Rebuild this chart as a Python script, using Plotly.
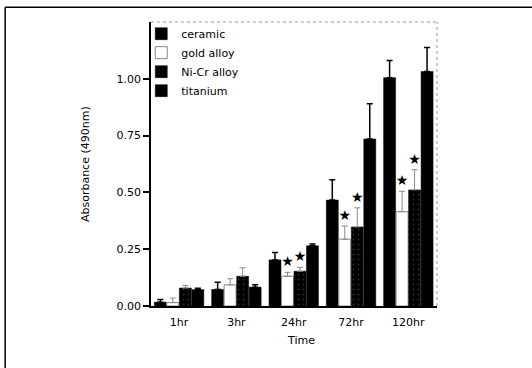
import plotly.graph_objects as go

categories = ["1hr", "3hr", "24hr", "72hr", "120hr"]
ceramic = [0.017, 0.073, 0.203, 0.466, 1.005]
ceramic_err = [0.012, 0.032, 0.033, 0.090, 0.075]
gold = [0.015, 0.093, 0.131, 0.294, 0.415]
gold_err = [0.020, 0.027, 0.017, 0.058, 0.090]
nicr = [0.079, 0.131, 0.153, 0.348, 0.511]
nicr_err = [0.011, 0.037, 0.017, 0.084, 0.089]
titanium = [0.072, 0.083, 0.265, 0.735, 1.032]
titanium_err = [0.006, 0.010, 0.008, 0.155, 0.106]
gold_star = [False, False, True, True, True]
nicr_star = [False, False, True, True, True]
y_ticks = [0.0, 0.25, 0.5, 0.75, 1.0]

FONT = "DejaVu Sans"
fig = go.Figure()

def add_bar(name, vals, errs, group, fill, line_color, line_w, err_color, err_w, pattern=None):
    marker = dict(color=fill, line=dict(color=line_color, width=line_w))
    if pattern:
        marker["pattern"] = pattern
    fig.add_trace(go.Bar(
        x=categories, y=vals, name=name, offsetgroup=group,
        marker=marker,
        error_y=dict(type="data", symmetric=False, array=errs,
                     arrayminus=[0] * len(errs), color=err_color,
                     thickness=err_w, width=3),
        hoverinfo="skip",
    ))

add_bar("ceramic", ceramic, ceramic_err, "c", "black", "black", 0.5, "black", 1.5)
add_bar("gold alloy", gold, gold_err, "g", "white", "#888888", 1, "#8a8a8a", 1)
add_bar("Ni-Cr alloy", nicr, nicr_err, "n", "black", "black", 0.5, "#8a8a8a", 1,
        pattern=dict(shape=".", fgcolor="#555555", bgcolor="black", size=5, solidity=0.12))
add_bar("titanium", titanium, titanium_err, "t", "black", "black", 0.5, "black", 1.5)

def add_stars(vals, errs, flags, group):
    fig.add_trace(go.Bar(
        x=categories, y=[v + e for v, e in zip(vals, errs)], offsetgroup=group,
        marker=dict(color="rgba(0,0,0,0)", line=dict(width=0)),
        text=["★" if f else "" for f in flags], textposition="outside",
        textfont=dict(family=FONT, size=14, color="black"),
        constraintext="none", cliponaxis=False, showlegend=False, hoverinfo="skip",
    ))

add_stars(gold, gold_err, gold_star, "g")
add_stars(nicr, nicr_err, nicr_star, "n")

fig.update_layout(
    width=532, height=368,
    margin=dict(l=151, r=95, t=22, b=62),
    paper_bgcolor="white", plot_bgcolor="white",
    barmode="group", bargap=0.128, bargroupgap=0.04,
    font=dict(family=FONT, size=11, color="black"),
    showlegend=True,
    legend=dict(x=-0.034, y=1.01, xanchor="left", yanchor="top",
                bgcolor="rgba(0,0,0,0)", font=dict(family=FONT, size=11, color="black"),
                traceorder="normal"),
    xaxis=dict(range=[-0.49, 4.5], showline=True, linecolor="black", linewidth=1.5,
               ticks="", showgrid=False, zeroline=False, ticklabelstandoff=5,
               tickfont=dict(family=FONT, size=11, color="black")),
    yaxis=dict(range=[0, 1.25], tickvals=y_ticks, tickformat=".2f", showline=True,
               linecolor="black", linewidth=1.5, ticks="outside", ticklen=6,
               tickwidth=1.5, tickcolor="black", showgrid=False, zeroline=False,
               tickfont=dict(family=FONT, size=11, color="black")),
    shapes=[
        dict(type="line", xref="paper", yref="paper", x0=0, x1=1, y0=1, y1=1,
             line=dict(color="#999999", width=1, dash="dot")),
        dict(type="line", xref="paper", yref="paper", x0=1, x1=1, y0=0, y1=1,
             line=dict(color="#999999", width=1, dash="dot")),
        dict(type="line", xref="paper", yref="paper", x0=-0.51, x1=1.4, y0=1.052, y1=1.052,
             line=dict(color="black", width=1.5)),
        dict(type="line", xref="paper", yref="paper", x0=-0.51, x1=-0.51, y0=-0.3, y1=1.052,
             line=dict(color="black", width=1.5)),
    ],
    annotations=[
        dict(text="Absorbance (490nm)", xref="paper", yref="paper", x=-0.2305, y=0.5,
             textangle=-90, showarrow=False, xanchor="center", yanchor="middle",
             font=dict(family=FONT, size=11, color="black")),
        dict(text="Time", xref="paper", yref="paper", x=0.526, y=-0.121,
             showarrow=False, xanchor="center", yanchor="middle",
             font=dict(family=FONT, size=11, color="black")),
    ],
)

fig.write_html("out.html", config={"displayModeBar": False},
               post_script="document.body.style.margin='0';")
